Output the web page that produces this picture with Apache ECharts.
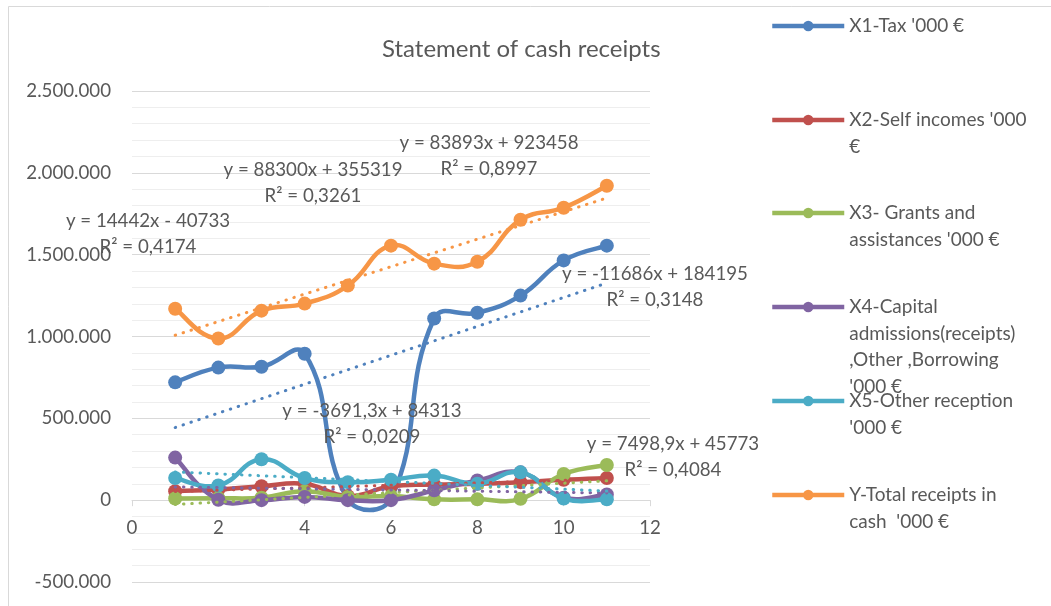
<!DOCTYPE html>
<html>
<head>
<meta charset="utf-8">
<script src="https://cdn.jsdelivr.net/npm/echarts@6/dist/echarts.min.js"></script>
<style>
html,body{margin:0;padding:0;background:#fff;}
#chart{width:1051px;height:606px;}
</style>
</head>
<body>
<div id="chart"></div>
<script>
// ---- data ----
const xValues = [1, 2, 3, 4, 5, 6, 7, 8, 9, 10, 11];
const seriesNames = [
  "X1-Tax '000 €",
  "X2-Self incomes '000 €",
  "X3- Grants and assistances '000 €",
  "X4-Capital admissions(receipts) ,Other ,Borrowing '000 €",
  "X5-Other reception '000 €",
  "Y-Total receipts in cash  '000 €"
];
const legendLines = [
  ["X1-Tax '000 €"],
  ["X2-Self incomes '000", "€"],
  ["X3- Grants and", "assistances '000 €"],
  ["X4-Capital", "admissions(receipts)", ",Other ,Borrowing", "'000 €"],
  ["X5-Other reception", "'000 €"],
  ["Y-Total receipts in", "cash  '000 €"]
];
const taxValues     = [720000, 810000, 815000, 895000, 5000, 10000, 1110000, 1145000, 1250000, 1465000, 1555000];
const selfValues    = [55000, 65000, 85000, 100000, 25000, 85000, 95000, 100000, 110000, 125000, 135000];
const grantValues   = [10000, 12000, 15000, 55000, 20000, 25000, 5000, 5000, 8000, 160000, 215000];
const capitalValues = [260000, 3000, 0, 20000, 0, 0, 60000, 120000, 170000, 15000, 35000];
const otherValues   = [135000, 90000, 250000, 135000, 110000, 125000, 150000, 100000, 170000, 10000, 5000];
const totalValues   = [1170000, 988000, 1158000, 1201000, 1311000, 1555000, 1445000, 1457000, 1713000, 1787000, 1921000];
// linear trendlines as printed on the chart (slope, intercept)
const trendSlopes     = [88300, 7498.9, 14442, -3691.3, -11686, 83893];
const trendIntercepts = [355319, 45773, -40733, 84313, 184195, 923458];
const trendEquations  = ["y = 88300x + 355319", "y = 7498,9x + 45773", "y = 14442x - 40733", "y = -3691,3x + 84313", "y = -11686x + 184195", "y = 83893x + 923458"];
const trendR2         = ["R² = 0,3261", "R² = 0,4084", "R² = 0,4174", "R² = 0,0209", "R² = 0,3148", "R² = 0,8997"];
const yTickMin = -500000, yTickMax = 2500000, yTickStep = 500000;
const xTickMin = 0, xTickMax = 12, xTickStep = 2;

// ---- styling ----
const allValues = [taxValues, selfValues, grantValues, capitalValues, otherValues, totalValues];
const colors = ['#4F81BD', '#C0504D', '#9BBB59', '#8064A2', '#4BACC6', '#F79646'];
const SMOOTH = 0.45;
const FONT = 'Lato, "Open Sans", sans-serif';
const TXT = '#595959';
const FS = 18.7;
const LINE_W = 4.5;
// label block centres (pixels)
const eqPos = [[313, 182.5], [673, 457], [148, 234], [372, 424], [655, 286.5], [489, 156]];
const legendCenters = [26, 120, 213, 307, 401, 495];
const LH = 26.5;
const GRID = { left: 132, top: 91, width: 518, height: 491 };

function fmt(v) {
  const s = Math.abs(v).toString().replace(/\B(?=(\d{3})+(?!\d))/g, '.');
  return (v < 0 ? '-' : '') + s;
}

// Excel-like (unclamped) smoothed segment between point j and j+1, in pixel space from the axes
function makeSegmentRenderer(vals, color) {
  const n = xValues.length;
  return function (params, api) {
    const j = params.dataIndex;
    if (j >= n - 1) return null;
    const P = k => api.coord([xValues[k], vals[k]]);
    const dist = (a, b) => Math.hypot(a[0] - b[0], a[1] - b[1]);
    function controls(k) {
      const p = P(k);
      const a = P(Math.max(k - 1, 0));
      const b = P(Math.min(k + 1, n - 1));
      const vx = b[0] - a[0], vy = b[1] - a[1];
      const dp = dist(p, a), dn = dist(b, p);
      let rOut, rIn;
      if (k === 0 || k === n - 1) { rOut = 0.5; rIn = 0.5; }
      else { rOut = dn / (dp + dn); rIn = 1 - rOut; }
      return {
        p: p,
        out: [p[0] + vx * SMOOTH * rOut, p[1] + vy * SMOOTH * rOut],
        inn: [p[0] - vx * SMOOTH * rIn, p[1] - vy * SMOOTH * rIn]
      };
    }
    const c1 = controls(j), c2 = controls(j + 1);
    return {
      type: 'bezierCurve',
      shape: {
        x1: c1.p[0], y1: c1.p[1], x2: c2.p[0], y2: c2.p[1],
        cpx1: c1.out[0], cpy1: c1.out[1], cpx2: c2.inn[0], cpy2: c2.inn[1]
      },
      style: { stroke: color, lineWidth: LINE_W, fill: 'none', lineCap: 'round', lineJoin: 'round' }
    };
  };
}

const series = [];
allValues.forEach((vals, i) => {
  const pts = xValues.map((x, j) => [x, vals[j]]);
  series.push({
    name: seriesNames[i] + ' (curve)',
    type: 'custom',
    data: pts,
    encode: { x: 0, y: 1 },
    renderItem: makeSegmentRenderer(vals, colors[i]),
    silent: true,
    z: 2 + 2 * i,
    animation: false
  });
  series.push({
    name: seriesNames[i],
    type: 'line',
    data: pts,
    symbol: 'circle',
    symbolSize: 14,
    lineStyle: { width: LINE_W, color: colors[i], opacity: 0 },
    itemStyle: { color: colors[i] },
    z: 3 + 2 * i,
    animation: false
  });
});
allValues.forEach((vals, i) => {
  const x0 = xValues[0], x1 = xValues[xValues.length - 1];
  series.push({
    name: seriesNames[i] + ' trend',
    type: 'line',
    data: [[x0, trendSlopes[i] * x0 + trendIntercepts[i]], [x1, trendSlopes[i] * x1 + trendIntercepts[i]]],
    symbol: 'none',
    silent: true,
    lineStyle: { width: 3, color: colors[i], type: [0.5, 7.8], cap: 'round' },
    z: 20,
    animation: false
  });
});

const legends = seriesNames.map((n, i) => {
  const k = legendLines[i].length;
  const textH = (2 * k - 1) * LH;
  return {
    data: [n],
    orient: 'vertical',
    left: 770,
    top: legendCenters[i] - textH / 2,
    padding: 0,
    itemWidth: 72,
    itemHeight: 13,
    selectedMode: false,
    lineStyle: { opacity: 1, width: LINE_W, color: colors[i] },
    formatter: function () {
      return '\n'.repeat(k - 1) + legendLines[i].join('\n');
    },
    textStyle: { color: TXT, fontSize: 19, fontFamily: FONT, lineHeight: LH }
  };
});

const graphics = [{
  type: 'rect', silent: true,
  shape: { x: 8.5, y: 6.5, width: 1100, height: 700 },
  style: { fill: 'none', stroke: '#d9d9d9', lineWidth: 1 }
}];
trendEquations.forEach((eq, i) => {
  graphics.push({
    type: 'text', silent: true, z: 100,
    x: eqPos[i][0], y: eqPos[i][1],
    style: {
      text: eq + '\n' + trendR2[i],
      fill: TXT, fontSize: FS, fontFamily: FONT, lineHeight: 26,
      align: 'center', verticalAlign: 'middle'
    }
  });
});

// x axis drawn through y = 0 (as in the original), offset from grid bottom
const xAxisOffset = -GRID.height * (0 - yTickMin) / (yTickMax - yTickMin);

const chart = echarts.init(document.getElementById('chart'), null, { renderer: 'canvas' });
chart.setOption({
  animation: false,
  backgroundColor: '#fff',
  title: {
    text: 'Statement of cash receipts',
    left: 377, top: 32,
    textStyle: { color: TXT, fontSize: 24, fontWeight: 'normal', fontFamily: FONT }
  },
  legend: legends,
  grid: Object.assign({ containLabel: false, outerBoundsMode: 'none' }, GRID),
  xAxis: {
    type: 'value', min: xTickMin, max: xTickMax, interval: xTickStep,
    offset: xAxisOffset,
    axisLine: { show: true, onZero: false, lineStyle: { color: '#d9d9d9', width: 1 } },
    axisTick: { show: true, length: 6, lineStyle: { color: '#d9d9d9' } },
    axisLabel: { color: TXT, fontSize: FS, fontFamily: FONT, margin: 18 },
    splitLine: { show: false }
  },
  yAxis: {
    type: 'value', min: yTickMin, max: yTickMax, interval: yTickStep,
    axisLine: { show: false },
    axisTick: { show: false },
    axisLabel: { color: TXT, fontSize: FS, fontFamily: FONT, margin: 21, formatter: fmt },
    splitLine: { show: true, lineStyle: { color: '#d9d9d9', width: 1 } },
    minorTick: { show: false, splitNumber: 5 },
    minorSplitLine: { show: true, lineStyle: { color: '#eeeeee', width: 1 } }
  },
  graphic: graphics,
  series: series
});
</script>
</body>
</html>
